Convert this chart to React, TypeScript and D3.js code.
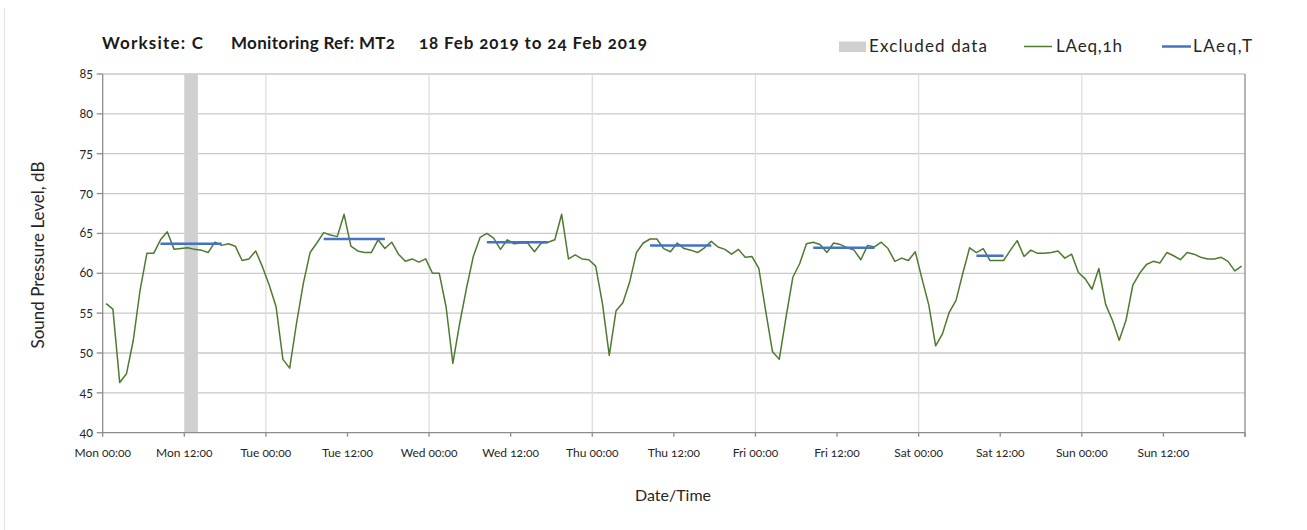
import * as d3 from "d3";

// hourly LAeq,1h values, Mon 00:00 .. Sun 23:00 (168 hours)
const mon = [56.2, 55.5, 46.3, 47.4, 51.6, 57.9, 62.5, 62.5, 64.2, 65.2, 63.0, 63.1, 63.2, 63.0, 62.9, 62.6, 63.9, 63.5, 63.7, 63.4, 61.6, 61.8, 62.8, 60.8];
const tue = [58.5, 55.8, 49.2, 48.1, 53.7, 58.7, 62.6, 63.8, 65.1, 64.8, 64.6, 67.4, 63.4, 62.8, 62.6, 62.6, 64.2, 63.1, 63.9, 62.4, 61.5, 61.8, 61.4, 61.8];
const wed = [60.0, 60.0, 55.8, 48.7, 53.7, 58.1, 62.1, 64.5, 65.0, 64.4, 63.0, 64.2, 63.7, 63.8, 63.8, 62.7, 63.8, 63.9, 64.2, 67.4, 61.8, 62.3, 61.8, 61.7];
const thu = [60.9, 56.2, 49.7, 55.3, 56.3, 58.9, 62.6, 63.8, 64.3, 64.3, 63.1, 62.7, 63.8, 63.1, 62.9, 62.6, 63.2, 64.0, 63.3, 63.0, 62.4, 63.0, 62.0, 62.1];
const fri = [60.6, 55.3, 50.2, 49.2, 54.5, 59.5, 61.2, 63.7, 63.9, 63.6, 62.6, 63.8, 63.6, 63.2, 62.9, 61.7, 63.5, 63.3, 63.9, 63.1, 61.5, 61.9, 61.6, 62.7];
const sat = [59.3, 56.0, 50.9, 52.4, 55.1, 56.6, 60.0, 63.2, 62.6, 63.1, 61.6, 61.6, 61.6, 62.9, 64.1, 62.1, 62.9, 62.5, 62.5, 62.6, 62.8, 61.9, 62.4, 60.1];
const sun = [59.3, 58.0, 60.6, 56.1, 54.1, 51.6, 54.1, 58.5, 60.0, 61.1, 61.5, 61.3, 62.6, 62.2, 61.7, 62.6, 62.4, 62.0, 61.8, 61.8, 62.0, 61.5, 60.3, 60.9];
const laeq1h = [...mon, ...tue, ...wed, ...thu, ...fri, ...sat, ...sun];

// LAeq,T periods (first hour index, last hour index, level)
const periodStart = [8, 32, 56, 80, 104, 128];
const periodEnd = [17, 41, 65, 89, 113, 132];
const periodLevel = [63.7, 64.3, 63.9, 63.5, 63.2, 62.2];

// excluded data window, hours from Mon 00:00
const excluded = [12, 14];

const dayNames = ["Mon", "Tue", "Wed", "Thu", "Fri", "Sat", "Sun"];
const yTicks = [40, 45, 50, 55, 60, 65, 70, 75, 80, 85];
const titleParts = ["Worksite: C", "Monitoring Ref: MT2", "18 Feb 2019 to 24 Feb 2019"];

const W = 1307;
const H = 530;
const font = "Lato, 'Open Sans', sans-serif";
const onum = { fontVariantNumeric: "oldstyle-nums" } as const;

export default function App() {
  const x = d3.scaleLinear().domain([0, 168]).range([102.7, 1245]);
  const y = d3.scaleLinear().domain([40, 85]).range([432.7, 74]);

  const line = d3
    .line<number>()
    .x((d, i) => x(i + 0.5))
    .y((d) => y(d));

  const xTicks = d3.range(0, 169, 12);
  const dayLines = d3.range(24, 168, 24);

  // title pieces: left edge and width
  const titleX = [102, 231, 419];
  const titleW = [101, 164, 228];

  return (
    <svg
      width={W}
      height={H}
      style={{ position: "absolute", left: 0, top: 0, background: "#fff" }}
      fontFamily={font}
    >
      <line x1={4.5} x2={4.5} y1={8} y2={H} stroke="#e3e3e3" />

      {/* title */}
      {titleParts.map((s, i) => (
        <text
          key={s}
          x={titleX[i]}
          y={49}
          fontSize={17}
          fontWeight="bold"
          fill="#1a1a1a"
          textLength={titleW[i]}
          lengthAdjust="spacing"
          style={onum}
        >
          {s}
        </text>
      ))}

      {/* legend */}
      <rect x={839} y={41.5} width={27} height={10.5} fill="#d0d0d0" />
      <text x={869} y={52} fontSize={17} fill="#262626" textLength={118} lengthAdjust="spacing">Excluded data</text>
      <line x1={1024} x2={1052} y1={46.5} y2={46.5} stroke="#4e7a2f" strokeWidth={1.5} />
      <text x={1056} y={52} fontSize={17} fill="#262626" textLength={66} lengthAdjust="spacing" style={onum}>LAeq,1h</text>
      <line x1={1162} x2={1191} y1={46.5} y2={46.5} stroke="#4472c4" strokeWidth={2.5} />
      <text x={1193} y={52} fontSize={17} fill="#262626" textLength={59} lengthAdjust="spacing">LAeq,T</text>

      {/* grid */}
      {yTicks.slice(1).map((t) => (
        <line key={"h" + t} x1={x(0)} x2={x(168)} y1={y(t)} y2={y(t)} stroke="#c9c9c9" strokeWidth={1.3} />
      ))}
      {dayLines.map((t) => (
        <line key={"v" + t} x1={x(t)} x2={x(t)} y1={y(85)} y2={y(40)} stroke="#dedede" strokeWidth={1.3} />
      ))}

      {/* excluded band */}
      <rect
        x={x(excluded[0])}
        y={y(85)}
        width={x(excluded[1]) - x(excluded[0])}
        height={y(40) - y(85)}
        fill="#d0d0d0"
      />

      {/* axes */}
      <line x1={x(0)} x2={x(0)} y1={y(85)} y2={y(40)} stroke="#8c8c8c" strokeWidth={1.3} />
      <line x1={x(168)} x2={x(168)} y1={y(85)} y2={y(40) + 4} stroke="#8c8c8c" strokeWidth={1.3} />
      <line x1={x(0)} x2={x(168)} y1={y(40)} y2={y(40)} stroke="#8c8c8c" strokeWidth={1.3} />
      {yTicks.map((t) => (
        <g key={"yt" + t}>
          <line x1={x(0) - 6} x2={x(0)} y1={y(t)} y2={y(t)} stroke="#8c8c8c" strokeWidth={1.3} />
          <text x={93} y={y(t) + 4} fontSize={12.5} textAnchor="end" fill="#262626" style={onum}>{t}</text>
        </g>
      ))}
      {xTicks.map((t) => (
        <g key={"xt" + t}>
          <line x1={x(t)} x2={x(t)} y1={y(40)} y2={y(40) + 4} stroke="#8c8c8c" strokeWidth={1.3} />
          {t < 168 && (
            <text x={x(t)} y={457} fontSize={12} textAnchor="middle" fill="#262626" style={onum}>
              {`${dayNames[Math.floor(t / 24)]} ${t % 24 === 0 ? "00:00" : "12:00"}`}
            </text>
          )}
        </g>
      ))}

      {/* series */}
      <path d={line(laeq1h) ?? ""} fill="none" stroke="#4e7a2f" strokeWidth={1.5} strokeLinejoin="round" />
      {periodLevel.map((v, i) => (
        <line
          key={"p" + i}
          x1={x(periodStart[i] + 0.5)}
          x2={x(periodEnd[i] + 0.5)}
          y1={y(v)}
          y2={y(v)}
          stroke="#4472c4"
          strokeWidth={2.5}
        />
      ))}

      {/* axis titles */}
      <text transform="translate(44,255) rotate(-90)" fontSize={17} textAnchor="middle" fill="#262626">
        Sound Pressure Level, dB
      </text>
      <text x={673} y={501} fontSize={16} textAnchor="middle" fill="#262626">Date/Time</text>
    </svg>
  );
}
